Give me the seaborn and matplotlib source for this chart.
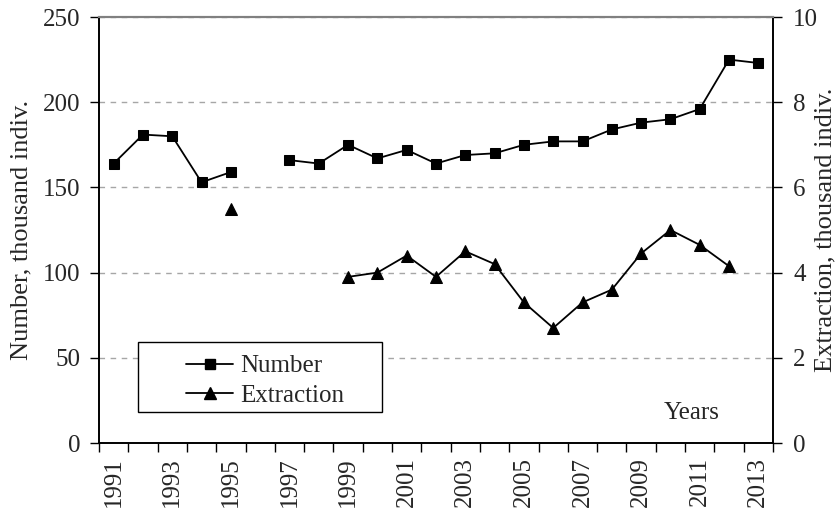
import numpy as np
import pandas as pd
import seaborn as sns
import matplotlib.pyplot as plt
from matplotlib.lines import Line2D
from matplotlib.patches import Rectangle

# data
number_years = [1991, 1992, 1993, 1994, 1995, 1997, 1998, 1999, 2000, 2001, 2002,
                2003, 2004, 2005, 2006, 2007, 2008, 2009, 2010, 2011, 2012, 2013]
number = [164, 181, 180, 153, 159, 166, 164, 175, 167, 172, 164,
          169, 170, 175, 177, 177, 184, 188, 190, 196, 225, 223]

extraction_years = [1995, 1999, 2000, 2001, 2002, 2003, 2004, 2005, 2006, 2007,
                    2008, 2009, 2010, 2011, 2012]
extraction = [5.5, 3.9, 4.0, 4.4, 3.9, 4.5, 4.2, 3.3, 2.7, 3.3,
              3.6, 4.45, 5.0, 4.65, 4.15]

tick_years = list(range(1991, 2014, 2))


def with_segments(years, values, name):
    d = pd.DataFrame({'year': years, name: values})
    # a new segment wherever a year is missing, so the line breaks there
    d['seg'] = (d['year'].diff() > 1).cumsum()
    return d


df_num = with_segments(number_years, number, 'number')
df_ext = with_segments(extraction_years, extraction, 'extraction')

sns.set_style('white')
plt.rcParams['font.family'] = ['Liberation Serif', 'DejaVu Serif']
fs = 18
fs_title = 19

fig = plt.figure(figsize=(8.37, 5.13), dpi=100)
ax = fig.add_axes([99 / 837, 70 / 513, 674 / 837, 426 / 513])
ax2 = ax.twinx()

sns.lineplot(data=df_num, x='year', y='number', units='seg', estimator=None,
             marker='s', markersize=7, color='black', markeredgecolor='black',
             linewidth=1.3, ax=ax)
sns.lineplot(data=df_ext, x='year', y='extraction', units='seg', estimator=None,
             marker='^', markersize=9, color='black', markeredgecolor='black',
             linewidth=1.3, ax=ax2)

ax.set_xlim(1990.5, 2013.5)
ax.set_ylim(0, 250)
ax2.set_ylim(0, 10)

# tick marks between categories, labels on the odd years
ax.set_xticks(np.arange(1990.5, 2014, 1), labels=[''] * 24)
ax.set_xticks(tick_years, labels=[str(y) for y in tick_years], minor=True)
ax.tick_params(axis='x', which='major', direction='out', length=6.5, width=1,
               color='black', bottom=True)
ax.tick_params(axis='x', which='minor', length=0, pad=10, labelsize=fs,
               labelrotation=90, bottom=True)

ax.set_yticks(range(0, 251, 50))
ax.tick_params(axis='y', direction='out', length=6.5, width=1, color='black',
               left=True, labelsize=fs, pad=7)
ax2.set_yticks(range(0, 11, 2))
ax2.tick_params(axis='y', direction='out', length=6.5, width=1, color='black',
                right=True, labelsize=fs, pad=8)

ax.yaxis.grid(True, color='#a6a6a6', linestyle=(0, (4, 4)), linewidth=1)
ax.xaxis.grid(False)

for a in (ax, ax2):
    for s in ('left', 'right', 'bottom'):
        a.spines[s].set_color('black')
        a.spines[s].set_linewidth(1.2)
    a.spines['top'].set_color('#808080')
    a.spines['top'].set_linewidth(1.5)

ax.set_xlabel('')
ax.set_ylabel('Number, thousand indiv.', fontsize=fs_title)
ax.yaxis.set_label_coords(-0.098, 0.5)
ax2.set_ylabel('Extraction, thousand indiv.', fontsize=fs_title)
ax2.yaxis.set_label_coords(1.062, 0.5)

ax.text(0.879, 0.07, 'Years', transform=ax.transAxes, fontsize=fs,
        ha='center', va='center')

# legend box drawn separately: it is much wider than its entries
ax2.add_patch(Rectangle((0.058, 0.073), 0.362, 0.164, transform=ax2.transAxes,
                        facecolor='white', edgecolor='black', linewidth=1,
                        zorder=4))
handles = [Line2D([], [], color='black', marker='s', markersize=7, linewidth=1.3),
           Line2D([], [], color='black', marker='^', markersize=9, linewidth=1.3)]
ax2.legend(handles, ['Number', 'Extraction'], loc='upper left',
           bbox_to_anchor=(0.129, 0.207), fontsize=fs, frameon=False,
           handlelength=1.9, handletextpad=0.28, labelspacing=0.28,
           borderpad=0, borderaxespad=0)

fig.savefig('out.png', dpi=100)
